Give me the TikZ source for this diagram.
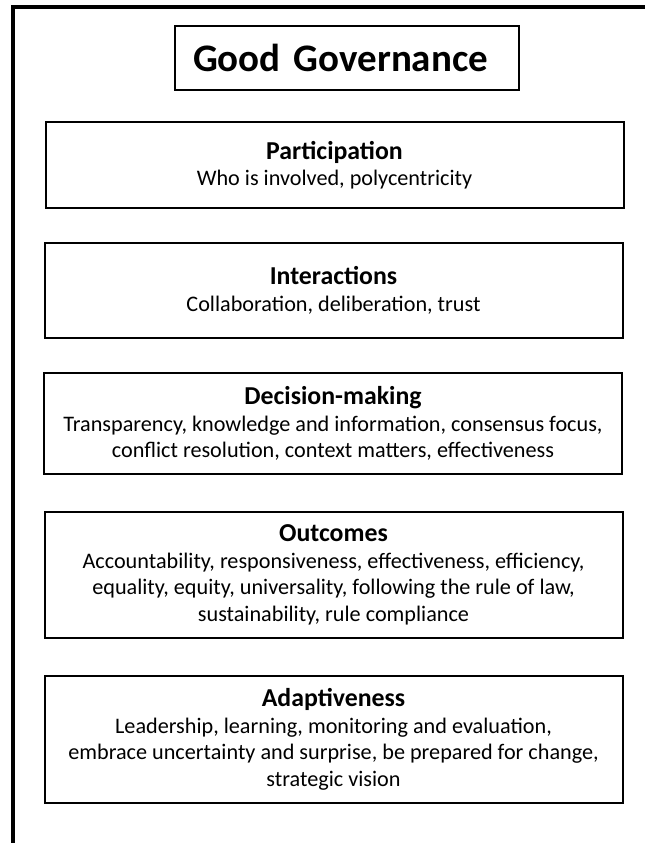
\documentclass[tikz,border=0pt]{standalone}
\usepackage{fontspec}
\setmainfont{Carlito}
\usepackage{tikz}
\tikzset{
  gbox/.style={draw, line width=2pt, rectangle, align=center, minimum width=578pt,
    inner sep=0pt, font=\fontsize{22.2}{26.5}\selectfont},
  titlebox/.style={draw, line width=2pt, rectangle, minimum width=344pt, minimum height=64pt,
    text width=308pt, inner xsep=18pt, align=left, font=\fontsize{39}{40}\selectfont\bfseries},
}
\newcommand{\boxhead}[1]{{\fontsize{25.8}{26.5}\selectfont\bfseries #1}}

\begin{document}
\begin{tikzpicture}[x=1pt, y=-1pt]
      \useasboundingbox (0,0) rectangle (645,843);
      % outer frame, only top and left show
      \draw[line width=3.5pt] (13,843) |- (645,7);
      \node[titlebox] (title) at (347,58) {Good Governance};
      \node[gbox, minimum height=86pt] (part) at (334.5,165)
        {\boxhead{Participation}\\Who is involved, polycentricity};
      \node[gbox, minimum height=95pt] (inter) at (333.5,290.5)
        {\boxhead{Interactions}\\Collaboration, deliberation, trust};
      \node[gbox, minimum height=101pt] (decis) at (333,423.5)
        {\boxhead{Decision-making}\\Transparency, knowledge and information, consensus focus,\\conflict resolution, context matters, effectiveness};
      \node[gbox, minimum height=126pt] (outc) at (333.5,575)
        {\boxhead{Outcomes}\\Accountability, responsiveness, effectiveness, efficiency,\\equality, equity, universality, following the rule of law,\\sustainability, rule compliance};
      \node[gbox, minimum height=127pt] (adapt) at (333.5,739.5)
        {\boxhead{Adaptiveness}\\Leadership, learning, monitoring and evaluation,\\embrace uncertainty and surprise, be prepared for change,\\strategic vision};
\end{tikzpicture}
\end{document}
